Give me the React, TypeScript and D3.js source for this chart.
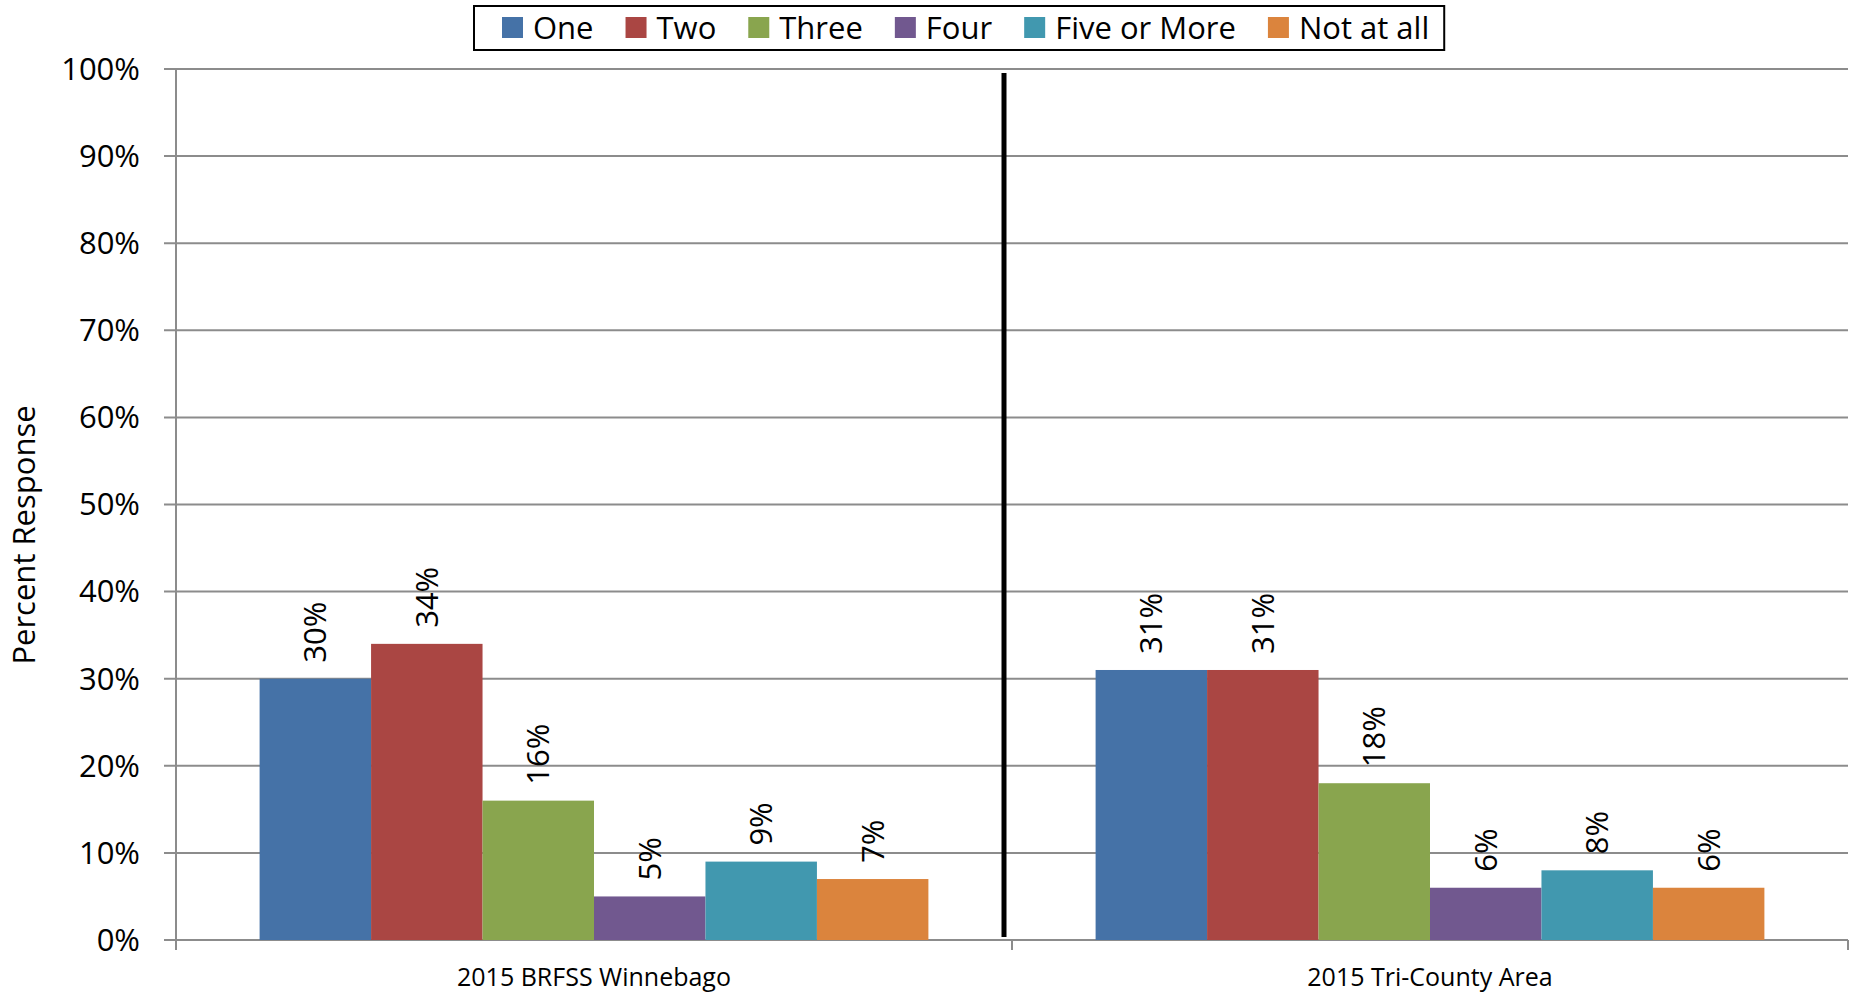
import { scaleBand, scaleLinear } from 'd3';
import React from 'react';

const categories = ['2015 BRFSS Winnebago', '2015 Tri-County Area'];
const seriesNames = ['One', 'Two', 'Three', 'Four', 'Five or More', 'Not at all'];
const seriesColors = ['#4572A7', '#AA4643', '#89A54E', '#71588F', '#4198AF', '#DB843D'];
// values per series: [Winnebago, Tri-County]
const one = [30, 31];
const two = [34, 31];
const three = [16, 18];
const four = [5, 6];
const fiveOrMore = [9, 8];
const notAtAll = [7, 6];
const seriesValues = [one, two, three, four, fiveOrMore, notAtAll];
const yTicks = [0, 10, 20, 30, 40, 50, 60, 70, 80, 90, 100];

const width = 1856;
const height = 993;
const margin = { top: 69, right: 8, bottom: 53, left: 176 };
const font = "'Open Sans', sans-serif";

const measure = (text: string, size: number) => {
	const ctx = document.createElement('canvas').getContext('2d');
	if (!ctx) return text.length * size * 0.55;
	ctx.font = `${size}px 'Open Sans'`;
	return ctx.measureText(text).width;
};

const Legend = () => {
	const x0 = 474;
	const sq = 21;
	const gap = 32;
	let x = x0 + 28;
	const items = seriesNames.map((name, i) => {
		const item = { name, color: seriesColors[i], x };
		x += sq + 10 + measure(name, 31) + gap;
		return item;
	});
	const boxW = x - gap + 15 - x0;
	return (
		<g>
			<rect x={x0} y={6} width={boxW} height={44} fill="white" stroke="black" strokeWidth={2} />
			{items.map(d => (
				<g key={d.name}>
					<rect x={d.x} y={17} width={sq} height={sq} fill={d.color} />
					<text x={d.x + sq + 10} y={38.5} fontSize={31} fontFamily={font}>
						{d.name}
					</text>
				</g>
			))}
		</g>
	);
};

const App = () => {
	const innerWidth = width - margin.left - margin.right;
	const innerHeight = height - margin.top - margin.bottom;

	const xScale = scaleBand().domain(categories).range([0, innerWidth]);
	const innerScale = scaleBand()
		.domain(seriesNames)
		.range([0, xScale.bandwidth()])
		.paddingOuter(0.75)
		.paddingInner(0);
	const yScale = scaleLinear().domain([0, 100]).range([innerHeight, 0]);

	const gridColor = '#8c8c8c';
	const boundaries = [0, ...categories.map(c => (xScale(c) || 0) + xScale.bandwidth())];
	const dividerX = (xScale(categories[1]) || 0) - 8;

	return (
		<svg width={width} height={height} style={{ position: 'absolute', left: 0, top: 0, background: 'white' }}>
			<g transform={`translate(${margin.left},${margin.top})`}>
				{yTicks.map(t => (
					<g key={t} transform={`translate(0,${yScale(t)})`}>
						<line x1={-12} x2={innerWidth} stroke={gridColor} strokeWidth={2} />
						<text x={-36} dy=".35em" textAnchor="end" fontSize={31} fontFamily={font}>
							{t}%
						</text>
					</g>
				))}
				<line x1={0} x2={0} y1={0} y2={innerHeight} stroke={gridColor} strokeWidth={2} />
				{boundaries.map(b => (
					<line key={b} x1={b} x2={b} y1={innerHeight} y2={innerHeight + 10} stroke={gridColor} strokeWidth={2} />
				))}
				{categories.map((c, ci) => (
					<g key={c} transform={`translate(${xScale(c)},0)`}>
						{seriesNames.map((s, si) => {
							const v = seriesValues[si][ci];
							const bx = innerScale(s) || 0;
							const bw = innerScale.bandwidth();
							return (
								<g key={s}>
									<rect x={bx} y={yScale(v)} width={bw} height={innerHeight - yScale(v)} fill={seriesColors[si]} />
									<text
										transform={`translate(${bx + bw / 2},${yScale(v) - 16}) rotate(-90)`}
										dy=".35em"
										fontSize={31}
										fontFamily={font}
									>
										{v}%
									</text>
								</g>
							);
						})}
						<text x={xScale.bandwidth() / 2} y={innerHeight + 46} textAnchor="middle" fontSize={25} fontFamily={font}>
							{c}
						</text>
					</g>
				))}
				<line x1={dividerX} x2={dividerX} y1={yScale(100) + 4} y2={innerHeight - 3} stroke="black" strokeWidth={5} />
			</g>
			<text transform="translate(35,535) rotate(-90)" textAnchor="middle" fontSize={31} fontFamily={font}>
				Percent Response
			</text>
			<Legend />
		</svg>
	);
};

export default App;
